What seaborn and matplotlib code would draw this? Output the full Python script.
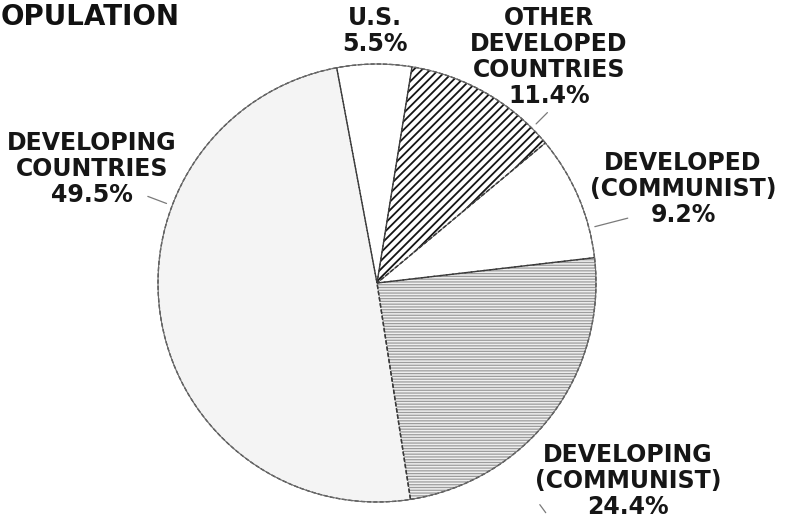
import matplotlib
matplotlib.use('Agg')
import matplotlib.pyplot as plt
import seaborn as sns
import numpy as np

# slice data, clockwise starting from the U.S. slice
categories = ["U.S.", "OTHER\nDEVELOPED\nCOUNTRIES", "DEVELOPED\n(COMMUNIST)",
              "DEVELOPING\n(COMMUNIST)", "DEVELOPING\nCOUNTRIES"]
shares = [5.5, 11.4, 9.2, 24.4, 49.5]
title = "OPULATION"  # cut-off heading as seen in the scan

# styling per slice
fills = ["white", "white", "white", "#efefef", "#f4f4f4"]
hatches = [None, "////", None, "------", None]
hatch_colors = ["white", "#141414", "white", "#9c9c9c", "#f4f4f4"]
hatch_widths = [1.0, 1.3, 1.0, 0.9, 1.0]

# label placement (pixel space, y from bottom) and leader lines (angle deg, r0, r1)
label_pos = [(375, 494), (549, 468), (683, 336), (628, 44), (92, 356)]
leaders = [None, (45, 225, 241), (14.5, 225, 259), (-53.7, 275, 285), (159.3, 225, 245)]

W, H = 785, 525
CX, CY, R = 377, 242, 219
START = 100.6  # degrees, counter-clockwise from +x

sns.set_theme(style="white")
plt.rcParams["font.family"] = ["DejaVu Sans"]
plt.rcParams["hatch.linewidth"] = 1.2

fig = plt.figure(figsize=(W / 100, H / 100), dpi=100)
ax = fig.add_axes([0, 0, 1, 1])

# filled wedges (edge colour drives hatch colour, edge itself not drawn)
wedges, _ = ax.pie(shares, center=(CX, CY), radius=R, startangle=START,
                   counterclock=False, colors=fills, frame=True)
for w, h, hc, hw in zip(wedges, hatches, hatch_colors, hatch_widths):
    w.set_edgecolor(hc)
    w.set_linewidth(0)
    if h:
        w.set_hatch(h)
        if hasattr(w, "set_hatch_linewidth"):
            w.set_hatch_linewidth(hw)

# outline circle and dashed slice boundaries
ax.pie(shares, center=(CX, CY), radius=R, startangle=START, counterclock=False,
       colors=["none"] * len(shares), frame=True,
       wedgeprops=dict(edgecolor="#3a3a3a", linewidth=1.0, linestyle=(0, (3, 1.5)), fill=False))
ax.add_patch(plt.Circle((CX, CY), R, fill=False, edgecolor="#6a6a6a", linewidth=0.8))

ax.set_xlim(0, W)
ax.set_ylim(0, H)
ax.set_aspect("equal")
ax.axis("off")

for cat, val, (x, y) in zip(categories, shares, label_pos):
    ax.text(x, y, f"{cat}\n{val}%", ha="center", va="center", multialignment="center",
            fontsize=17, fontweight="bold", color="#161616", linespacing=1.12)

for ld in leaders:
    if ld is None:
        continue
    a, r0, r1 = ld
    t = np.deg2rad(a)
    ax.plot([CX + r0 * np.cos(t), CX + r1 * np.cos(t)],
            [CY + r0 * np.sin(t), CY + r1 * np.sin(t)], color="#7a7a7a", linewidth=0.9)

ax.text(1, 508, title, ha="left", va="center", fontsize=20, fontweight="bold", color="#111111")

fig.savefig("out.png", dpi=100)
